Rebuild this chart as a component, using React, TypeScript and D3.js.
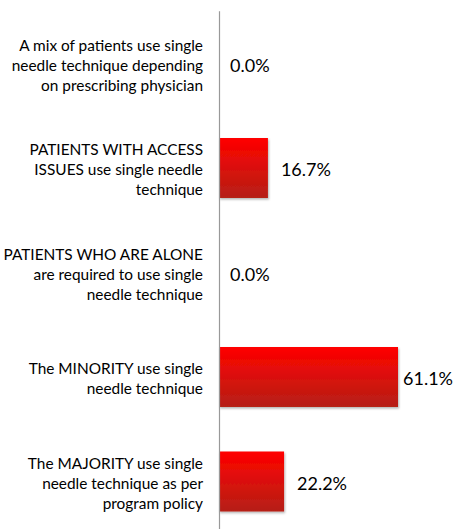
import React from "react";
import * as d3 from "d3";

const categories: string[][] = [
  ["A mix of patients use single", "needle technique depending", "on prescribing physician"],
  ["PATIENTS WITH ACCESS", "ISSUES use single needle", "technique"],
  ["PATIENTS WHO ARE ALONE", "are required to use single", "needle technique"],
  ["The MINORITY use single", "needle technique"],
  ["The MAJORITY use single", "needle technique as per", "program policy"],
];
const values: number[] = [0.0, 16.7, 0.0, 61.1, 22.2];
const valueLabels: string[] = ["0.0%", "16.7%", "0.0%", "61.1%", "22.2%"];

const W = 454;
const H = 529;

export default function App() {
  const x = d3.scaleLinear().domain([0, 61.1]).range([219, 398]);
  const y = d3
    .scaleBand<number>()
    .domain(d3.range(categories.length))
    .range([11.25, 533.75])
    .paddingInner(0.425)
    .paddingOuter(0.2125);
  const bw = 60;
  return (
    <svg
      width={W}
      height={H}
      style={{ position: "absolute", left: 0, top: 0, background: "#fff" }}
      fontFamily="Lato, 'Open Sans', sans-serif"
    >
      <defs>
        <linearGradient id="barGrad" x1="0" y1="0" x2="0" y2="1">
          <stop offset="0" stopColor="#ff0000" />
          <stop offset="1" stopColor="#b52016" />
        </linearGradient>
        <filter id="shadow" x="-10%" y="-10%" width="130%" height="130%">
          <feDropShadow dx="1" dy="1.5" stdDeviation="1.2" floodColor="#000" floodOpacity="0.3" />
        </filter>
      </defs>
      {values.map((v, i) => {
        const cy = (y(i) as number) + y.bandwidth() / 2;
        const xEnd = x(v);
        const big = v > 50;
        return (
          <g key={i}>
            {v > 0 && (
              <rect
                x={x(0)}
                y={cy - bw / 2}
                width={xEnd - x(0)}
                height={bw}
                fill="url(#barGrad)"
                filter="url(#shadow)"
              />
            )}
            <text
              x={big ? W - 1 : xEnd + (v > 0 ? 13 : 11)}
              y={cy + 2}
              dy="0.35em"
              textAnchor={big ? "end" : "start"}
              fontSize={18}
              fill="#000"
            >
              {valueLabels[i]}
            </text>
            <text textAnchor="end" fontSize={15.4} fill="#000">
              {categories[i].map((line, j) => (
                <tspan
                  key={j}
                  x={203}
                  y={cy + 2 + (j - (categories[i].length - 1) / 2) * 20}
                  dy="0.35em"
                >
                  {line}
                </tspan>
              ))}
            </text>
          </g>
        );
      })}
      <line x1={219.5} x2={219.5} y1={11.25} y2={H} stroke="#999" strokeWidth={1.2} />
    </svg>
  );
}
